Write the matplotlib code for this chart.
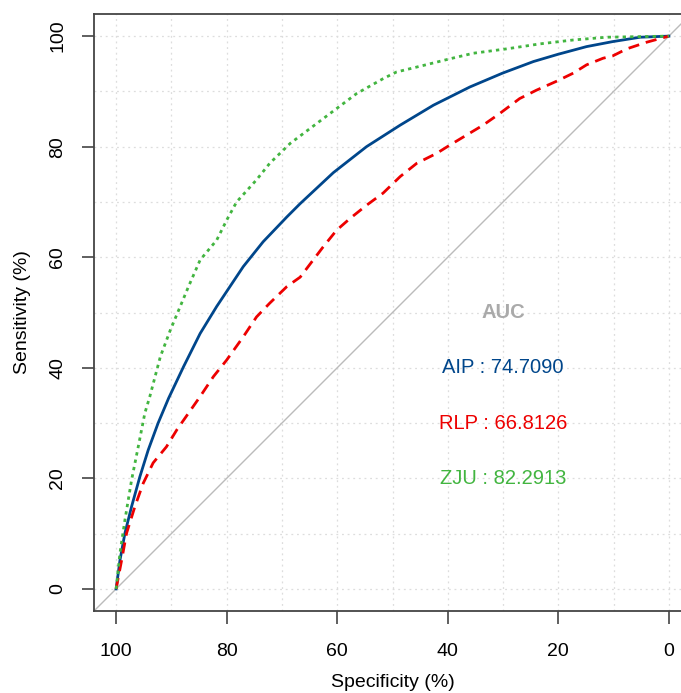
import numpy as np
import matplotlib.pyplot as plt

plt.rcParams['font.family'] = ['Liberation Sans', 'DejaVu Sans']

# ROC curves (specificity %, sensitivity %)
aip_spec = [100, 99.3, 98.4, 97.2, 95.7, 94.2, 92.4, 90.5, 87.8, 84.8, 81.8, 80.0, 77.0,
            73.4, 69.1, 66.7, 60.7, 54.7, 48.6, 42.6, 36.0, 30.1, 24.5, 20.1, 14.9,
            10.2, 5.2, 0]
aip_sens = [0, 5.2, 10.1, 14.9, 20.3, 25.1, 30.0, 34.5, 40.2, 46.2, 51.1, 53.8, 58.3,
            62.8, 67.3, 69.7, 75.3, 80.0, 83.9, 87.5, 90.8, 93.3, 95.4, 96.7, 98.1,
            99.0, 99.8, 100]

rlp_spec = [100, 99.0, 98.1, 96.6, 95.1, 93.3, 90.9, 89.0, 86.9, 84.8, 82.4, 80.0, 77.0,
            74.6, 72.2, 69.1, 66.7, 62.6, 60.1, 57.7, 54.7, 51.7, 48.6, 45.6, 42.0,
            39.6, 36.6, 33.6, 30.6, 27.0, 24.0, 20.4, 17.3, 14.9, 11.9, 10.2, 7.6, 4.0, 0]
rlp_sens = [0, 5.2, 10.1, 14.9, 19.1, 22.8, 25.7, 28.8, 31.8, 34.8, 38.4, 41.4, 45.6,
            49.2, 51.7, 54.7, 56.4, 61.8, 64.9, 67.0, 69.4, 71.6, 74.6, 77.0, 78.8,
            80.3, 82.1, 83.9, 86.0, 88.7, 90.2, 91.8, 93.3, 94.8, 96.0, 96.4, 97.7, 98.9, 100]

zju_spec = [100, 99.3, 98.4, 97.2, 96.0, 94.8, 93.9, 92.0, 90.2, 88.4, 86.9, 84.8, 81.8,
            80.0, 78.2, 74.6, 72.2, 68.5, 63.7, 60.1, 56.5, 51.7, 49.3, 44.4, 39.6,
            35.4, 29.3, 23.3, 17.3, 11.3, 0]
zju_sens = [0, 6.5, 12.5, 19.7, 25.7, 31.8, 34.8, 42.0, 46.8, 51.1, 54.7, 59.5, 63.1,
            66.7, 70.0, 74.0, 77.0, 80.6, 84.2, 86.9, 89.6, 92.3, 93.5, 94.7, 95.9,
            96.9, 97.7, 98.6, 99.3, 99.8, 100]

names = ['AIP', 'RLP', 'ZJU']
aucs = [74.7090, 66.8126, 82.2913]
colors = ['#00468B', '#ED0000', '#42B540']

fig = plt.figure(figsize=(6.81, 6.93), dpi=100)
ax = fig.add_axes([94/681, 82/693, 597/681, 597/693])

for v in range(0, 101, 10):
    ax.axvline(v, color='#dddddd', lw=0.9, ls=(0, (1.5, 3)), zorder=0)
    ax.axhline(v, color='#dddddd', lw=0.9, ls=(0, (1.5, 3)), zorder=0)

ax.plot([110, -10], [-10, 110], color='#bbbbbb', lw=1.0, zorder=1)

ax.plot(aip_spec, aip_sens, color=colors[0], lw=2.0, zorder=3)
ax.plot(rlp_spec, rlp_sens, color=colors[1], lw=2.0, ls=(0, (4, 2.5)), zorder=3)
ax.plot(zju_spec, zju_sens, color=colors[2], lw=2.0, ls=(0, (1.2, 1.5)), zorder=3)

ax.text(30, 50, 'AUC', color='#aaaaaa', fontsize=14.5, fontweight='bold',
        ha='center', va='center')
for i in range(3):
    ax.text(30, 40 - 10 * i, '%s : %.4f' % (names[i], aucs[i]), color=colors[i],
            fontsize=14.5, ha='center', va='center')

ax.set_xlim(104, -4)
ax.set_ylim(-4, 104)
ax.set_xticks([100, 80, 60, 40, 20, 0])
ax.set_yticks([0, 20, 40, 60, 80, 100])
ax.tick_params(length=9, width=1.2, color='#444444', labelsize=14)
ax.tick_params(axis='x', pad=14)
ax.tick_params(axis='y', labelrotation=90, pad=11)
for lab in ax.get_yticklabels():
    lab.set_va('center')
for s in ax.spines.values():
    s.set_color('#444444')
    s.set_linewidth(1.3)

ax.set_xlabel('Specificity (%)', fontsize=14, labelpad=10)
ax.set_ylabel('Sensitivity (%)', fontsize=14, labelpad=13)

fig.savefig('out.png', dpi=100)
